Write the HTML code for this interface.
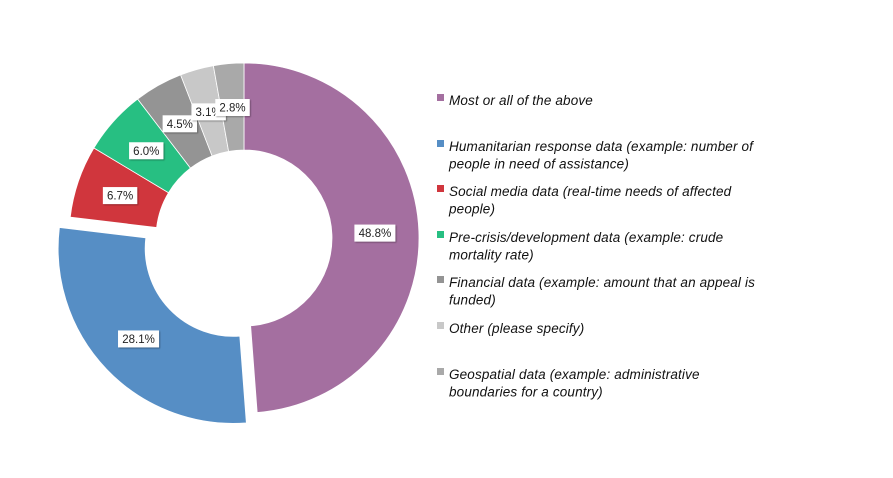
<!DOCTYPE html>
<html><head><meta charset="utf-8"><style>
body{margin:0;background:#fff;}
svg text{font-family:"Liberation Sans",sans-serif;}
</style></head><body>
<svg id="chart" width="893" height="473" viewBox="0 0 893 473" xmlns="http://www.w3.org/2000/svg">
<defs><filter id="sh" x="-20%" y="-20%" width="150%" height="150%"><feDropShadow dx="1" dy="1" stdDeviation="0.8" flood-color="#000" flood-opacity="0.35"/></filter></defs>
<g id="slices"></g>
<g id="labels"></g>
<g id="legend"></g>
</svg>
<script>
const categories=["Most or all of the above","Humanitarian response data (example: number of|people in need of assistance)","Social media data (real-time needs of affected|people)","Pre-crisis/development data (example: crude|mortality rate)","Financial data (example: amount that an appeal is|funded)","Other (please specify)","Geospatial data (example: administrative|boundaries for a country)"];
const values=[48.8,28.1,6.7,6.0,4.5,3.1,2.8];
const valueLabels=["48.8%","28.1%","6.7%","6.0%","4.5%","3.1%","2.8%"];
const colors=["#a46fa0","#568ec5","#d0363d","#27bf82","#949494","#c8c8c8","#a9a9a9"];
const exploded=[0,1,0,0,0,0,0];
const cx=244,cy=238,R=175,r=88,explode=15;
const NS="http://www.w3.org/2000/svg";
const sG=document.getElementById('slices'),lG=document.getElementById('labels'),gG=document.getElementById('legend');
const total=values.reduce((a,b)=>a+b,0);
function pt(a,rad,ox,oy){const t=a*Math.PI/180;return [cx+ox+rad*Math.sin(t),cy+oy-rad*Math.cos(t)];}
let cum=0;
values.forEach((v,i)=>{
  const a0=cum/total*360,a1=(cum+v)/total*360;cum+=v;
  const mid=(a0+a1)/2,mt=mid*Math.PI/180;
  const ox=exploded[i]?explode*Math.sin(mt):0,oy=exploded[i]?-explode*Math.cos(mt):0;
  const large=(a1-a0)>180?1:0;
  const p1=pt(a0,R,ox,oy),p2=pt(a1,R,ox,oy),p3=pt(a1,r,ox,oy),p4=pt(a0,r,ox,oy);
  const p=document.createElementNS(NS,'path');
  p.setAttribute('d',`M${p1[0]},${p1[1]}A${R},${R} 0 ${large} 1 ${p2[0]},${p2[1]}L${p3[0]},${p3[1]}A${r},${r} 0 ${large} 0 ${p4[0]},${p4[1]}Z`);
  p.setAttribute('fill',colors[i]);p.setAttribute('stroke','#fff');p.setAttribute('stroke-width','0.8');
  
  
  sG.appendChild(p);
  const lp=pt(mid,131,ox,oy);
  const g=document.createElementNS(NS,'g');
  
  
  const w=valueLabels[i].length*6.6+8,h=17;
  const rc=document.createElementNS(NS,'rect');
  rc.setAttribute('x',lp[0]-w/2);rc.setAttribute('y',lp[1]-h/2);rc.setAttribute('width',w);rc.setAttribute('height',h);
  rc.setAttribute('fill','#fff');rc.setAttribute('filter','url(#sh)');
  g.appendChild(rc);
  const t=document.createElementNS(NS,'text');
  t.setAttribute('x',lp[0]);t.setAttribute('y',lp[1]+4);t.setAttribute('text-anchor','middle');t.setAttribute('font-size','11.5');t.setAttribute('fill','#222');
  t.textContent=valueLabels[i];g.appendChild(t);lG.appendChild(g);
});
const legendY=[100,146,191,237,282,328,374];
categories.forEach((c,i)=>{
  const g=document.createElementNS(NS,'g');
  
  
  const sq=document.createElementNS(NS,'rect');
  sq.setAttribute('x',437);sq.setAttribute('y',legendY[i]-6);sq.setAttribute('width',7);sq.setAttribute('height',7);sq.setAttribute('fill',colors[i]);
  g.appendChild(sq);
  c.split('|').forEach((line,j)=>{
    const t=document.createElementNS(NS,'text');
    t.setAttribute('x',449);t.setAttribute('y',legendY[i]+5+j*17.5);t.setAttribute('font-size','13.5');t.setAttribute('font-style','italic');t.setAttribute('letter-spacing','0.15');t.setAttribute('fill','#111');
    t.textContent=line;g.appendChild(t);
  });
  gG.appendChild(g);
});
</script>
</body></html>
